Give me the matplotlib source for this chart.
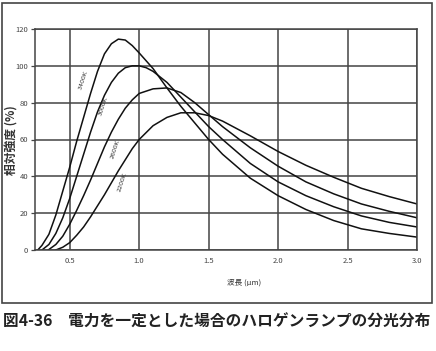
import matplotlib
matplotlib.use("Agg")
import matplotlib.pyplot as plt
from matplotlib.patches import Rectangle

# --- data ---
labels = ["3400K", "3000K", "2600K", "2200K"]

x_3400 = [0.27, 0.30, 0.35, 0.40, 0.45, 0.50, 0.55, 0.60, 0.65, 0.70, 0.75, 0.80, 0.85, 0.90, 0.95, 1.00, 1.10, 1.20, 1.30, 1.40, 1.50, 1.60, 1.80, 2.00, 2.20, 2.40, 2.60, 2.80, 3.00]
y_3400 = [0, 2.5, 8.5, 19, 32, 45, 59, 72, 85, 97, 106.5, 112, 114.5, 114, 111, 107, 98.5, 88, 78, 69, 60, 52, 39, 29.5, 22, 16, 11.5, 9, 7]

x_3000 = [0.30, 0.35, 0.40, 0.45, 0.50, 0.55, 0.60, 0.65, 0.70, 0.75, 0.80, 0.85, 0.90, 0.95, 1.00, 1.05, 1.10, 1.20, 1.30, 1.40, 1.50, 1.60, 1.80, 2.00, 2.20, 2.40, 2.60, 2.80, 3.00]
y_3000 = [0, 3, 9, 17.5, 28, 40, 52, 64, 75, 84, 91, 96, 99, 100, 100, 99, 97, 91, 83, 75, 67, 60, 47, 37, 29.5, 23.5, 18.5, 15, 12.5]

x_2600 = [0.345, 0.40, 0.45, 0.50, 0.55, 0.60, 0.65, 0.70, 0.75, 0.80, 0.85, 0.90, 0.95, 1.00, 1.10, 1.20, 1.30, 1.40, 1.50, 1.60, 1.80, 2.00, 2.20, 2.40, 2.60, 2.80, 3.00]
y_2600 = [0, 3, 7.5, 14, 21.5, 29.5, 38, 47, 56, 64, 71, 77, 81.5, 85, 87.5, 88, 85.5, 80, 73.5, 67, 55.5, 45.5, 37, 30.5, 25, 21, 17.5]

x_2200 = [0.40, 0.45, 0.50, 0.55, 0.60, 0.65, 0.70, 0.75, 0.80, 0.85, 0.90, 0.95, 1.00, 1.10, 1.20, 1.30, 1.40, 1.50, 1.60, 1.80, 2.00, 2.20, 2.40, 2.60, 2.80, 3.00]
y_2200 = [0, 1.5, 4, 8, 12.5, 18, 24, 30, 36.5, 43, 49, 55, 60, 67.5, 72, 74.5, 74.5, 73, 70, 62, 53.5, 46, 39.5, 33.5, 29, 25]

curve_x = [x_3400, x_3000, x_2600, x_2200]
curve_y = [y_3400, y_3000, y_2600, y_2200]

label_pos_x = [0.595, 0.74, 0.825, 0.876]
label_pos_y = [92, 78, 55, 37]

x_ticks = [0.5, 1.0, 1.5, 2.0, 2.5, 3.0]
x_ticklabels = ["0.5", "1.0", "1.5", "2.0", "2.5", "3.0"]
y_ticks = [0, 20, 40, 60, 80, 100, 120]
y_ticklabels = ["0", "20", "40", "60", "80", "100", "120"]

plt.rcParams['font.family'] = ['Noto Sans CJK JP', 'DejaVu Sans']

W, H = 436, 351
fig = plt.figure(figsize=(W / 100, H / 100), dpi=100)
fig.patch.set_facecolor("white")

# outer frame
fig.patches.append(Rectangle((2 / W, 1 - 303 / H), 430 / W, 300 / H,
                             transform=fig.transFigure, fill=False,
                             edgecolor="#444444", linewidth=1.2))

ax = fig.add_axes([35 / W, 1 - 250 / H, 382 / W, 221 / H])
ax.set_xlim(0.25, 3.0)
ax.set_ylim(0, 120)

line_col = "#111111"
for xs, ys in zip(curve_x, curve_y):
    ax.plot(xs, ys, color=line_col, linewidth=1.1, solid_capstyle="round")

for lab, lx, ly in zip(labels, label_pos_x, label_pos_y):
    ax.text(lx, ly, lab, rotation=72, fontsize=4.5, color="#333333",
            ha="center", va="center", family=['DejaVu Sans'])

ax.set_xticks(x_ticks)
ax.set_xticklabels(x_ticklabels)
ax.set_yticks(y_ticks)
ax.set_yticklabels(y_ticklabels)
ax.grid(True, color="#444444", linewidth=1.1)
ax.set_axisbelow(True)
for s in ax.spines.values():
    s.set_color("#444444")
    s.set_linewidth(1.1)
ax.tick_params(axis="both", labelsize=5.5, colors="#444444", length=3,
               width=0.9, labelcolor="#444444", pad=2)
ax.tick_params(axis="x", length=0, pad=5)

fig.text(12 / W, 1 - 140 / H, "相対強度 (%)", rotation=90, fontsize=8.5,
         fontweight="bold", color="#333333", ha="center", va="center")
fig.text(244 / W, 1 - 283 / H, "波長 (μm)", fontsize=5.5, color="#333333",
         ha="center", va="center")
fig.text(217 / W, 1 - 322 / H,
         "図4-36　電力を一定とした場合のハロゲンランプの分光分布",
         fontsize=11.3, fontweight="bold", color="#222222",
         ha="center", va="center")

fig.savefig("out.png", dpi=100, facecolor="white")
